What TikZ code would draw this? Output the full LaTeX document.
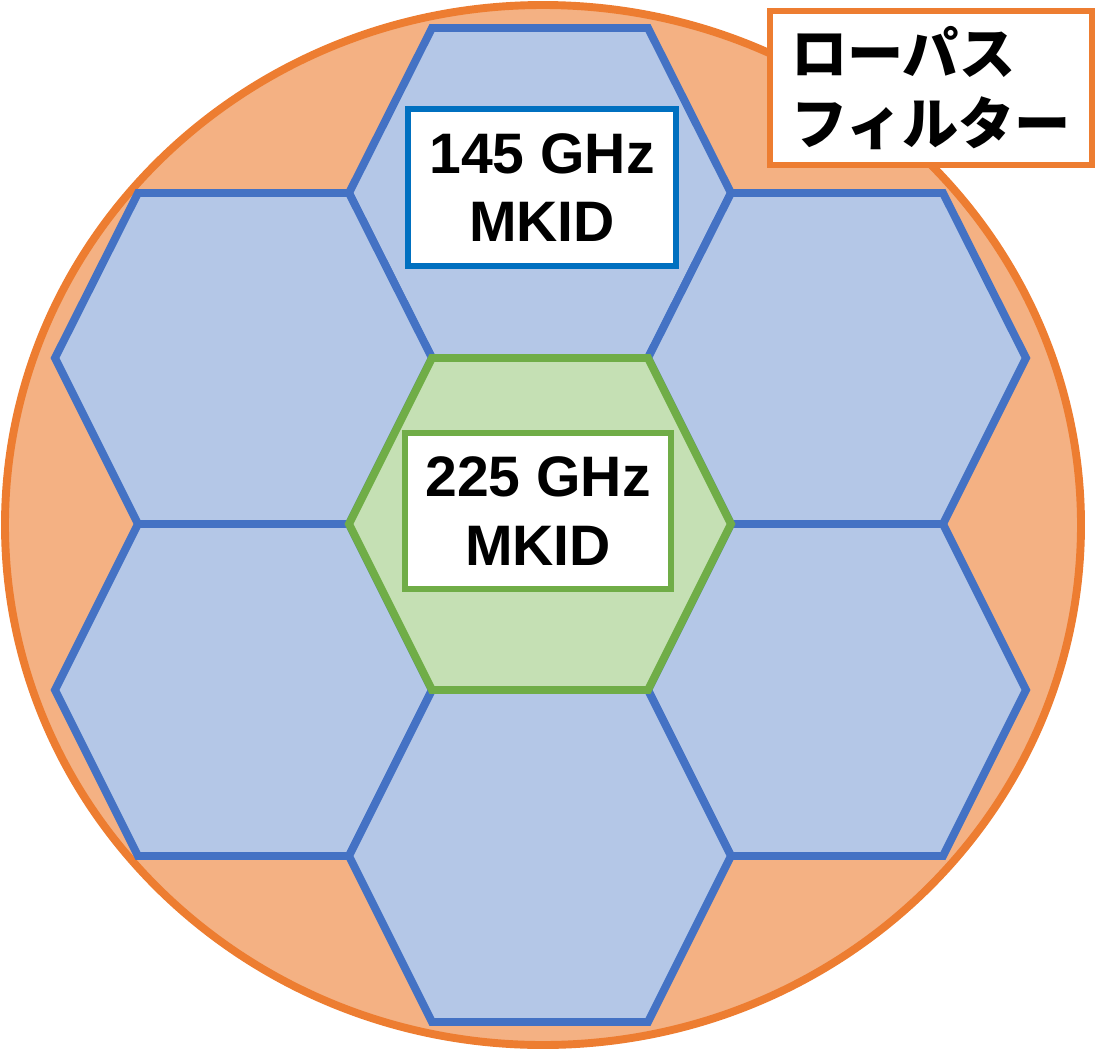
\documentclass[tikz,border=0pt]{standalone}
\usepackage{fontspec}
\setmainfont{Liberation Sans}
\newfontfamily\jpfont{Noto Sans CJK JP}
\usetikzlibrary{positioning}
\definecolor{filterfill}{RGB}{244,177,131}
\definecolor{filterline}{RGB}{237,125,49}
\definecolor{cellfill}{RGB}{180,199,231}
\definecolor{cellline}{RGB}{68,114,196}
\definecolor{midfill}{RGB}{197,224,180}
\definecolor{midline}{RGB}{112,173,71}
\definecolor{tagblue}{RGB}{0,112,192}

\begin{document}
\begin{tikzpicture}[x=0.02cm, y=-0.02cm,
  cell/.style={fill=cellfill, draw=cellline, line width=4.5pt},
  midcell/.style={fill=midfill, draw=midline, line width=4.5pt},
  tag/.style={fill=white, line width=3.2pt, align=center, inner sep=0pt,
    font=\bfseries\fontsize{32.5}{39}\selectfont}]
  \useasboundingbox (0,0) rectangle (1110,1052);

  % Low-pass filter disc
  \draw[fill=filterfill, draw=filterline, line width=4.5pt]
    (543,525) ellipse [x radius=538, y radius=520];

  % Outer 145 GHz cells
  \draw[cell] (432,28) -- (648,28) -- (731,193) -- (648,358) -- (432,358) -- (349,193) -- cycle;
  \draw[cell] (138,193) -- (349,193) -- (432,358) -- (349,524) -- (138,524) -- (55,358) -- cycle;
  \draw[cell] (731,193) -- (943,193) -- (1026,358) -- (943,524) -- (731,524) -- (648,358) -- cycle;
  \draw[cell] (138,524) -- (349,524) -- (432,690) -- (349,856) -- (138,856) -- (55,690) -- cycle;
  \draw[cell] (731,524) -- (943,524) -- (1026,690) -- (943,856) -- (731,856) -- (648,690) -- cycle;
  \draw[cell] (432,690) -- (648,690) -- (731,856) -- (648,1022) -- (432,1022) -- (349,856) -- cycle;

  % Central 225 GHz cell
  \draw[midcell] (432,358) -- (648,358) -- (731,524) -- (648,690) -- (432,690) -- (349,524) -- cycle;

  % Labels
  \node (tag145) [tag, draw=tagblue, minimum width=5.36cm, minimum height=3.14cm]
    at (542,187.5) {145 GHz\\MKID};
  \node (tag225) [tag, draw=midline, minimum width=5.32cm, minimum height=3.12cm]
    at (538,511) {225 GHz\\MKID};
  \node (filter) [tag, draw=filterline, align=left, minimum width=6.44cm, minimum height=3.08cm,
    font=\jpfont\bfseries\fontsize{32}{40}\selectfont]
    at (931,88) {ローパス\\フィルター};
\end{tikzpicture}
\end{document}
